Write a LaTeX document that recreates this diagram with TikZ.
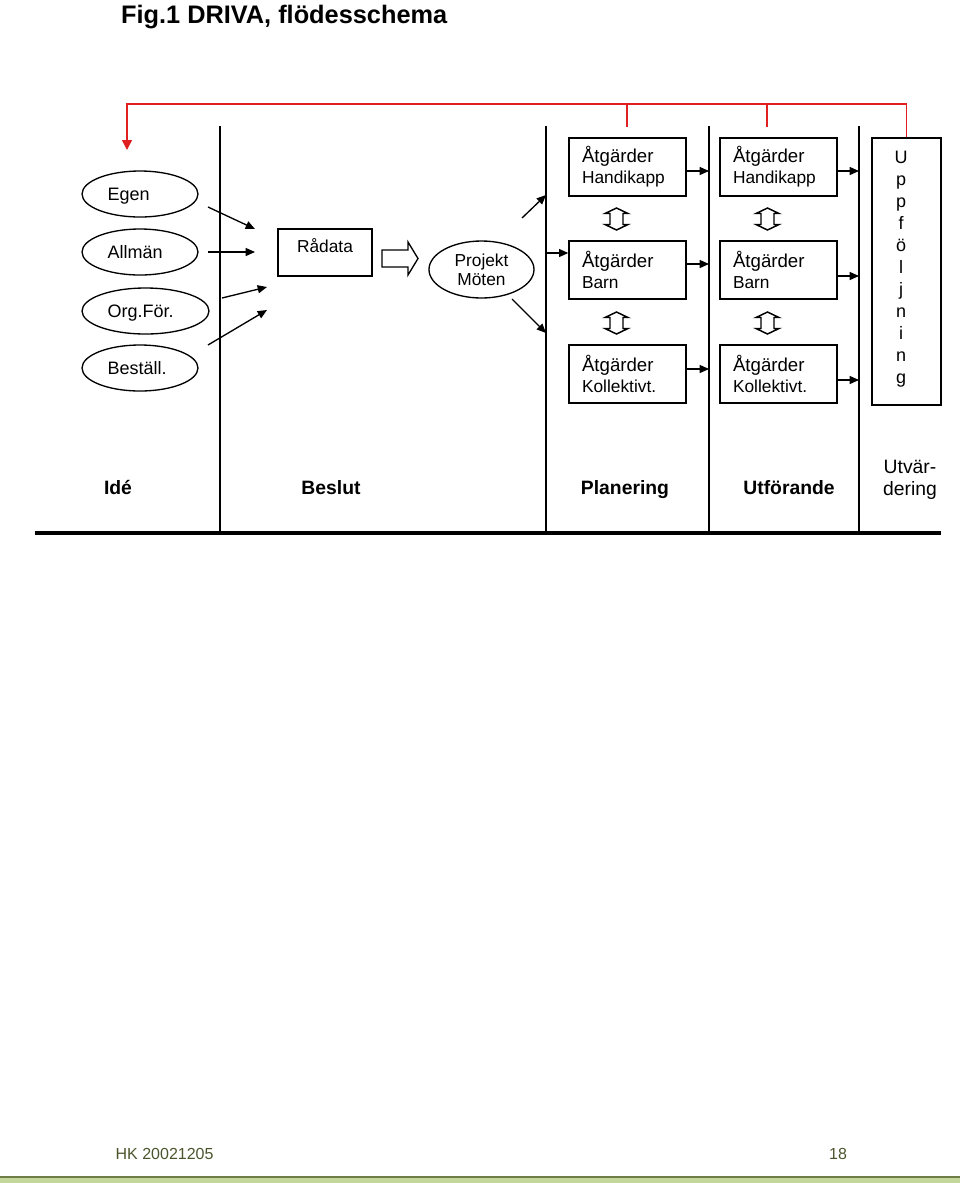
\documentclass[tikz,border=0pt]{standalone}
\usepackage{fontspec}
\setmainfont{Liberation Sans}
\usetikzlibrary{arrows.meta,shapes.geometric}

\definecolor{linkred}{RGB}{224,32,32}
\definecolor{footdark}{RGB}{110,125,70}
\definecolor{footgreen}{RGB}{196,215,155}
\definecolor{foottext}{RGB}{75,85,45}
\newcommand{\px}{0.75pt}
\newcommand{\atg}{{\fontsize{14}{15.75}\selectfont Åtgärder}}

\tikzset{
  arr/.style={-{Triangle[length=7pt,width=6pt]}},
  txt/.style={font=\fontsize{13.5}{15.75}\selectfont,text height=9.6pt,text depth=0pt},
  oval/.style={draw,ellipse,inner sep=0pt,minimum height=46*\px},
  atgbox/.style={draw,rectangle,inner sep=0pt,minimum width=117*\px,minimum height=58*\px,
    align=left,text width=91*\px,font=\fontsize{13}{15.75}\selectfont},
  phase/.style={font=\fontsize{14.5}{17}\selectfont\bfseries,text height=10.4pt,text depth=0pt},
  updown/.pic={\draw[line width=1.1pt] (0,-11) -- (11.5,-5.5) -- (6.5,-5.5) -- (6.5,5.5) -- (11.5,5.5) -- (0,11)
    -- (-11.5,5.5) -- (-6.5,5.5) -- (-6.5,-5.5) -- (-11.5,-5.5) -- cycle;}
}

\begin{document}
\begin{tikzpicture}[x=\px,y=-\px,line width=1pt]
    \useasboundingbox (0,0) rectangle (960,1183);
    \node[anchor=base west,font=\fontsize{19}{22}\selectfont\bfseries] (title) at (116,23) {Fig.1 DRIVA, flödesschema};

    % phase borders
    \foreach \x in {220,546,709,859}
        \draw (\x,126) -- (\x,532);
    \draw[line width=3pt] (35,533) -- (941,533);

    % sources
    \foreach \name/\lbl/\y/\w in {egen/Egen/194/116,allman/Allmän/252/116,orgfor/Org.För./311/127,bestall/Beställ./368/116}{
        \node[oval,minimum width=\w*\px] (\name) at (82+\w/2,\y) {};
        \node[txt,anchor=west,inner sep=0pt] (\name-t) at (107,\y) {\lbl};
    }
    \coordinate (out1) at (208,207); \coordinate (in1) at (255,229);
    \coordinate (out2) at (208,252); \coordinate (in2) at (255,252);
    \coordinate (out3) at (222,298); \coordinate (in3) at (267,287);
    \coordinate (out4) at (208,345); \coordinate (in4) at (267,310);
    \foreach \i in {1,2,3,4}
        \draw[arr] (out\i) -- (in\i);

    \node[draw,inner sep=0pt,minimum width=94*\px,font=\fontsize{13}{15.75}\selectfont,
          text height=17.25pt,text depth=18pt] (radata) at (325,252.5) {Rådata};
    \draw (382,250) -- (408,250) -- (408,242) -- (418,258.5) -- (408,275) -- (408,267) -- (382,267) -- cycle;

    \node[oval,minimum width=105*\px,minimum height=57*\px,align=center,
          font=\fontsize{13}{14.25}\selectfont] (proj) at (481.5,269.5) {Projekt\\Möten};

    % measures
    \foreach \c/\x in {1/627.5,2/778.5}{
        \node[atgbox] (hand\c) at (\x,167) {\atg\\Handikapp};
        \node[atgbox] (barn\c) at (\x,270) {\atg\\Barn};
        \node[atgbox] (koll\c) at (\x,374) {\atg\\Kollektivt.};
        \pic at (\x-11,219) {updown};
        \pic at (\x-11,323) {updown};
    }
    \coordinate (p1) at (522,218); \coordinate (p2) at (546,195);
    \coordinate (p3) at (512,299); \coordinate (p4) at (546,333);
    \coordinate (p5) at (546,253);
    \draw[arr] (p1) -- (p2);
    \draw[arr] (p3) -- (p4);
    \draw[arr] (p5) -- (barn1.west |- p5);
    \foreach \b/\y in {hand1/171,barn1/264,koll1/369}
        \draw[arr] (\b.east |- 0,\y) -- (709,\y);
    \foreach \b/\y in {hand2/171,barn2/276,koll2/380}
        \draw[arr] (\b.east |- 0,\y) -- (859,\y);

    % follow-up
    \node[draw,inner sep=0pt,minimum width=69*\px,minimum height=267*\px] (upp) at (906.5,271.5) {};
    \foreach \c [count=\i] in {U,p,p,f,ö,l,j,n,i,n,g}
        \node[anchor=base,inner sep=0pt,font=\fontsize{13.5}{16}\selectfont] (upp-\i) at (901,141+22*\i) {\c};

    % feedback
    \coordinate (redl) at (127,104);
    \coordinate (rede) at (127,150);
    \draw[linkred,line width=1.1pt,-{Triangle[length=7.5pt,width=7.5pt]}] (upp.north) |- (redl) -- (rede);
    \draw[linkred,line width=1.1pt] (627,104) -- (627,127);
    \draw[linkred,line width=1.1pt] (767,104) -- (767,127);

    % phases
    \node[phase] (ide) at (118,488) {Idé};
    \node[phase] (beslut) at (331,488) {Beslut};
    \node[phase] (plan) at (625,488) {Planering};
    \node[phase] (utf) at (789,488) {Utförande};
    \node[align=center,font=\fontsize{14.5}{17}\selectfont] (utv) at (910,480) {Utvär-\\dering};

    % footer
    \fill[footgreen] (0,1177) rectangle (960,1183);
    \draw[footdark,line width=0.8pt] (0,1177) -- (960,1177);
    \node[anchor=base west,inner sep=0pt,text=foottext,font=\fontsize{12}{14}\selectfont] (date) at (115,1159) {HK 20021205};
    \node[anchor=base,inner sep=0pt,text=foottext,font=\fontsize{12}{14}\selectfont] (page) at (838,1159) {18};
\end{tikzpicture}
\end{document}
